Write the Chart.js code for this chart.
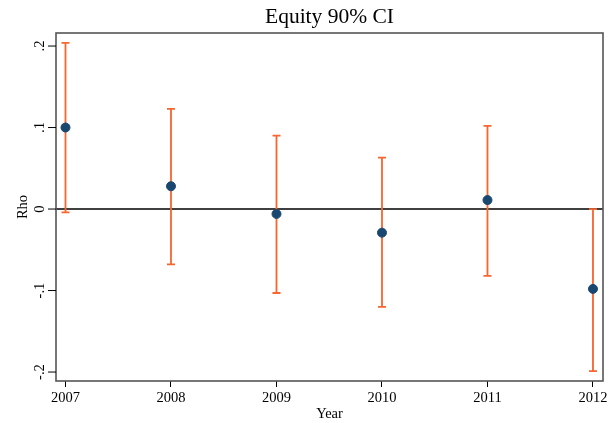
<!DOCTYPE html>
<html>
<head>
<meta charset="utf-8">
<script src="https://cdn.jsdelivr.net/npm/chart.js@4"></script>
<style>
html,body{margin:0;padding:0;background:#fff;}
#wrap{width:613px;height:423px;}
</style>
</head>
<body>
<div id="wrap"><canvas id="c" width="613" height="423"></canvas></div>
<script>
const years = [2007, 2008, 2009, 2010, 2011, 2012];
const rho = [0.100, 0.028, -0.006, -0.029, 0.011, -0.098];
const lower = [-0.004, -0.068, -0.103, -0.120, -0.082, -0.199];
const upper = [0.204, 0.123, 0.090, 0.063, 0.102, 0.000];
const yTicks = [-0.2, -0.1, 0, 0.1, 0.2];
const yTickLabels = ['-.2', '-.1', '0', '.1', '.2'];
const titleText = 'Equity 90% CI';

const SERIF = '"Liberation Serif", "Times New Roman", serif';
const ERR_COLOR = '#f8652f';
const PT_COLOR = '#1a476f';

const customDraw = {
  id: 'customDraw',
  beforeDatasetsDraw(chart) {
    const ctx = chart.ctx, xs = chart.scales.x, ys = chart.scales.y, a = chart.chartArea;
    ctx.save();
    const y0 = ys.getPixelForValue(0);
    ctx.strokeStyle = '#000'; ctx.lineWidth = 1.5;
    ctx.beginPath(); ctx.moveTo(a.left, y0); ctx.lineTo(a.right, y0); ctx.stroke();
    ctx.strokeStyle = ERR_COLOR; ctx.lineWidth = 1.8;
    for (let i = 0; i < years.length; i++) {
      const x = xs.getPixelForValue(years[i]);
      const yl = ys.getPixelForValue(lower[i]);
      const yu = ys.getPixelForValue(upper[i]);
      ctx.beginPath();
      ctx.moveTo(x, yl); ctx.lineTo(x, yu);
      ctx.moveTo(x - 4, yl); ctx.lineTo(x + 4, yl);
      ctx.moveTo(x - 4, yu); ctx.lineTo(x + 4, yu);
      ctx.stroke();
    }
    ctx.restore();
  },
  afterDraw(chart) {
    const ctx = chart.ctx, ys = chart.scales.y, a = chart.chartArea;
    ctx.save();
    ctx.strokeStyle = '#555'; ctx.lineWidth = 1.6;
    ctx.strokeRect(a.left, a.top, a.right - a.left, a.bottom - a.top);
    ctx.strokeStyle = '#000'; ctx.lineWidth = 1;
    ctx.fillStyle = '#000';
    ctx.font = '14.5px ' + SERIF;
    ctx.textAlign = 'center'; ctx.textBaseline = 'middle';
    for (let i = 0; i < yTicks.length; i++) {
      const y = ys.getPixelForValue(yTicks[i]);
      ctx.beginPath(); ctx.moveTo(a.left - 8, y); ctx.lineTo(a.left, y); ctx.stroke();
      ctx.save();
      ctx.translate(a.left - 16, y);
      ctx.rotate(-Math.PI / 2);
      ctx.fillText(yTickLabels[i], 0, 0);
      ctx.restore();
    }
    // title centred over plot area
    ctx.font = '21.5px ' + SERIF;
    ctx.textBaseline = 'middle';
    ctx.fillText(titleText, (a.left + a.right) / 2, 17);
    ctx.restore();
  }
};

new Chart(document.getElementById('c'), {
  type: 'scatter',
  data: {
    datasets: [{
      data: years.map((y, i) => ({x: y, y: rho[i]})),
      backgroundColor: PT_COLOR,
      borderColor: PT_COLOR,
      pointRadius: 4.5,
      pointHoverRadius: 4.5
    }]
  },
  options: {
    responsive: false,
    animation: false,
    devicePixelRatio: 1,
    layout: {padding: {top: 33, right: 10, bottom: 0, left: 0}},
    plugins: {
      legend: {display: false},
      tooltip: {enabled: false},
      title: {display: false}
    },
    scales: {
      x: {
        type: 'linear',
        min: 2006.91,
        max: 2012.095,
        afterBuildTicks(s) { s.ticks = years.map(v => ({value: v})); },
        afterFit(s) { s.height = 42; },
        grid: {display: true, drawOnChartArea: false, drawTicks: true, tickLength: 6, color: '#000'},
        border: {display: false},
        ticks: {
          color: '#000',
          padding: 2,
          maxRotation: 0,
          font: {family: SERIF, size: 14.5},
          callback: v => String(v)
        },
        title: {
          display: true,
          text: 'Year',
          color: '#000',
          font: {family: SERIF, size: 14.5},
          padding: {top: 0, bottom: 0}
        }
      },
      y: {
        type: 'linear',
        min: -0.211,
        max: 0.216,
        afterBuildTicks(s) { s.ticks = yTicks.map(v => ({value: v})); },
        afterFit(s) { s.width = 56; },
        grid: {display: false},
        border: {display: false},
        ticks: {display: false},
        title: {
          display: true,
          text: 'Rho',
          color: '#000',
          font: {family: SERIF, size: 14.5},
          padding: {top: 14, bottom: 0}
        }
      }
    }
  },
  plugins: [customDraw]
});
</script>
</body>
</html>
